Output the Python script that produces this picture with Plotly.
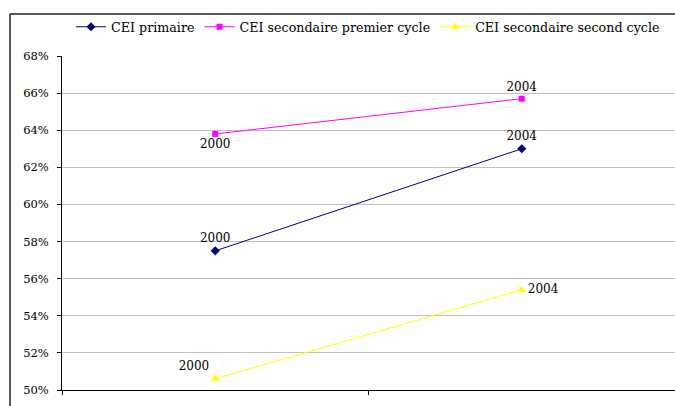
import plotly.graph_objects as go

years = ["2000", "2004"]
series_names = ["CEI primaire", "CEI secondaire premier cycle", "CEI secondaire second cycle"]
cei_primaire = [0.575, 0.630]
cei_sec_premier = [0.638, 0.657]
cei_sec_second = [0.506, 0.554]
y_ticks = [0.50, 0.52, 0.54, 0.56, 0.58, 0.60, 0.62, 0.64, 0.66, 0.68]

FONT = "DejaVu Serif"

fig = go.Figure()
specs = [
    (series_names[0], cei_primaire, "#000080", "diamond", 7, ["top center", "top center"]),
    (series_names[1], cei_sec_premier, "#FF00FF", "square", 6, ["bottom center", "top center"]),
    (series_names[2], cei_sec_second, "#FFFF00", "triangle-up", 8, ["top left", "middle right"]),
]
for name, vals, col, sym, sz, pos in specs:
    fig.add_trace(go.Scatter(
        x=years, y=vals, name=name, mode="lines+markers+text",
        text=years, textposition=pos,
        textfont=dict(family=FONT, size=12, color="#000000"),
        line=dict(color=col, width=1),
        marker=dict(color=col, symbol=sym, size=sz),
        cliponaxis=False,
    ))

fig.update_layout(
    width=675, height=406,
    margin=dict(l=62, r=0, t=56, b=16),
    paper_bgcolor="white", plot_bgcolor="white",
    showlegend=True,
    legend=dict(orientation="h", x=0.0147, xanchor="left", y=1.0868, yanchor="middle",
                font=dict(family=FONT, size=12.7, color="#000000"), itemwidth=30,
                bgcolor="rgba(0,0,0,0)", tracegroupgap=0),
    font=dict(family=FONT, size=12, color="#000000"),
)
fig.update_xaxes(
    type="category", range=[-0.5, 1.5], showgrid=False, showticklabels=False,
    tickson="boundaries", ticks="outside", ticklen=4, tickcolor="#000000",
    showline=True, linecolor="#000000", linewidth=1, zeroline=False,
)
fig.update_yaxes(
    range=[0.50, 0.68], tickvals=y_ticks, tickformat=".0%",
    showgrid=True, gridcolor="#c0c0c0", gridwidth=1,
    ticks="outside", ticklen=4, tickcolor="#000000", ticklabelstandoff=6,
    showline=True, linecolor="#000000", linewidth=1, zeroline=False,
    tickfont=dict(family=FONT, size=11.5, color="#000000"),
)
# outer chart frame (left and top edges visible)
fig.add_shape(type="line", xref="paper", yref="paper", x0=-0.0848, x1=-0.0848, y0=-0.2, y1=1.1257,
              line=dict(color="#222222", width=1.5))
fig.add_shape(type="line", xref="paper", yref="paper", x0=-0.0848, x1=1.2, y0=1.1257, y1=1.1257,
              line=dict(color="#222222", width=1.5))

fig.write_html(
    "out.html",
    config={"displayModeBar": False},
    post_script=(
        "document.documentElement.style.overflow='hidden';"
        "document.body.style.margin='0';document.body.style.overflow='hidden';"
    ),
)
